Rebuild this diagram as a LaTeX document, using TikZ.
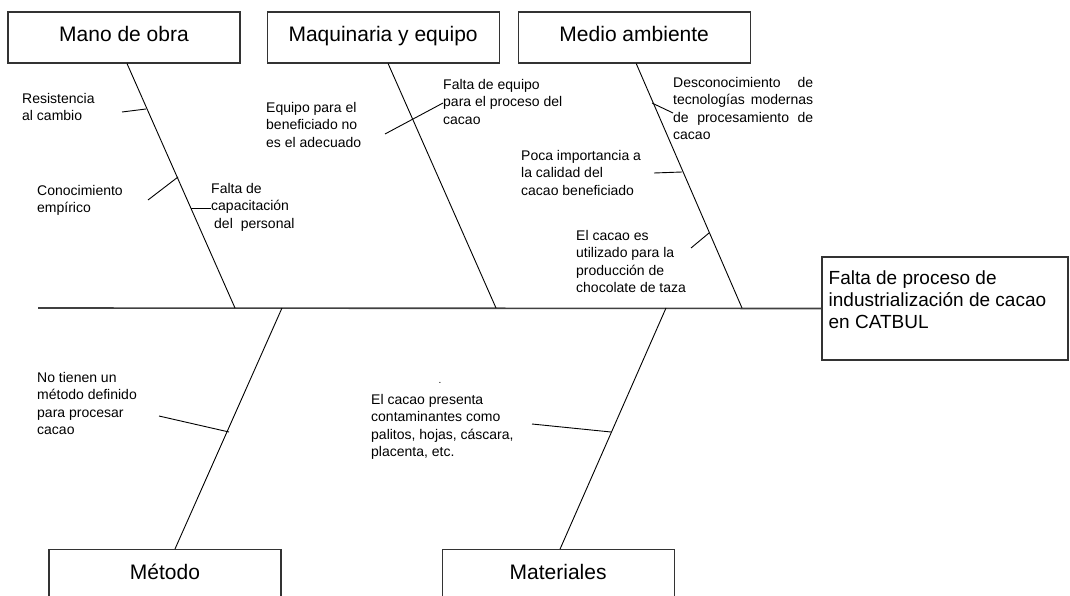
\documentclass[tikz,border=0pt]{standalone}
\usepackage{fontspec}
\setmainfont{Liberation Sans}
\usetikzlibrary{positioning}

\tikzset{
  cat/.style={draw=black!80, line width=1.1pt, minimum width=232pt, minimum height=51pt, inner sep=0pt, text height=15pt, text depth=6pt, font=\fontsize{21}{25}\selectfont},
  cause/.style={anchor=north west, inner sep=0pt, align=left, font=\fontsize{14}{17.5}\selectfont},
  bone/.style={line width=0.9pt},
  spine/.style={line width=1.6pt, black!75},
}

\begin{document}
\begin{tikzpicture}[x=1pt, y=-1pt]
\useasboundingbox (0,0) rectangle (1070,596);

\node (mano) [cat] at (124,37.5) {Mano de obra};
\node (maq) [cat, right=26pt of mano] {Maquinaria y equipo};
\node (medio) [cat, right=18pt of maq] {Medio ambiente};
\node (metodo) [cat] at (165,575) {Método};
\node (mat) [cat, right=160pt of metodo] {Materiales};
\node (efecto) [draw=black!80, line width=1.1pt, minimum width=246pt, minimum height=103pt] at (945,308.5) {};
\node (efectoTxt) [cause, font=\fontsize{19}{22}\selectfont] at ([shift={(7pt,-14pt)}]efecto.north west)
  {Falta de proceso de\\industrialización de cacao\\en CATBUL};

\coordinate (cola) at (38,308);
\coordinate (e1) at (235,308);
\coordinate (e2) at (496,308);
\coordinate (e3) at (742,308);
\coordinate (e4) at (282,308);
\coordinate (e5) at (666,308);

\draw[spine] (cola) -- (efecto.west);
\draw[bone] ([xshift=3pt]mano.south) -- (e1);
\draw[bone] ([xshift=5pt]maq.south) -- (e2);
\draw[bone] ([xshift=2pt]medio.south) -- (e3);
\draw[bone] ([xshift=10pt]metodo.north) -- (e4);
\draw[bone] ([xshift=2pt]mat.north) -- (e5);

\node (resist) [cause] at (22,93) {Resistencia\\al cambio};
\node (conoc) [cause] at (37,185) {Conocimiento\\empírico};
\node (capac) [cause] at (211,183) {Falta de\\capacitación\\\hspace*{3pt}del\hspace*{4pt} personal};
\node (equipo) [cause] at (266,102) {Equipo para el\\beneficiado no\\es el adecuado};
\node (faltaEq) [cause] at (443,79) {Falta de equipo\\para el proceso del\\cacao};
\node (descon) [cause, text width=140pt] at (673,77)
  {Desconocimiento\hfill de\\tecnologías\hfill modernas\\de\hfill procesamiento\hfill de\\cacao};
\node (poca) [cause] at (521,150) {Poca importancia a\\la calidad del\\cacao beneficiado};
\node (taza) [cause] at (576,230) {El cacao es\\utilizado para la\\producción de\\chocolate de taza};
\node (noMet) [cause] at (37,372) {No tienen un\\método definido\\para procesar\\cacao};
\node (contam) [cause] at (371,394) {El cacao presenta\\contaminantes como\\palitos, hojas, cáscara,\\placenta, etc.};
\node (punto) [inner sep=0pt, anchor=base, font=\fontsize{10}{12}\selectfont] at (440,383) {.};

\coordinate (t1a) at (122,112);
\coordinate (t1b) at (146,109);
\coordinate (t2a) at (148,200);
\coordinate (t2b) at (178,177);
\coordinate (t3a) at (191,208);
\coordinate (t3b) at (211,208);
\coordinate (t4a) at (385,134);
\coordinate (t4b) at (443,103);
\coordinate (t5a) at (652,103);
\coordinate (t5b) at (673,113);
\coordinate (t6a) at (654,173);
\coordinate (t6b) at (682,172);
\coordinate (t7a) at (709,233);
\coordinate (t7b) at (691,248);
\coordinate (t8a) at (159,416);
\coordinate (t8b) at (229,432);
\coordinate (t9a) at (532,424);
\coordinate (t9b) at (611,432);

\draw[bone] (t1a) -- (t1b);
\draw[bone] (t2a) -- (t2b);
\draw[bone] (t3a) -- (t3b);
\draw[bone] (t4a) -- (t4b);
\draw[bone] (t5a) -- (t5b);
\draw[bone] (t6a) -- (t6b);
\draw[bone] (t7a) -- (t7b);
\draw[bone] (t8a) -- (t8b);
\draw[bone] (t9a) -- (t9b);
\end{tikzpicture}
\end{document}
